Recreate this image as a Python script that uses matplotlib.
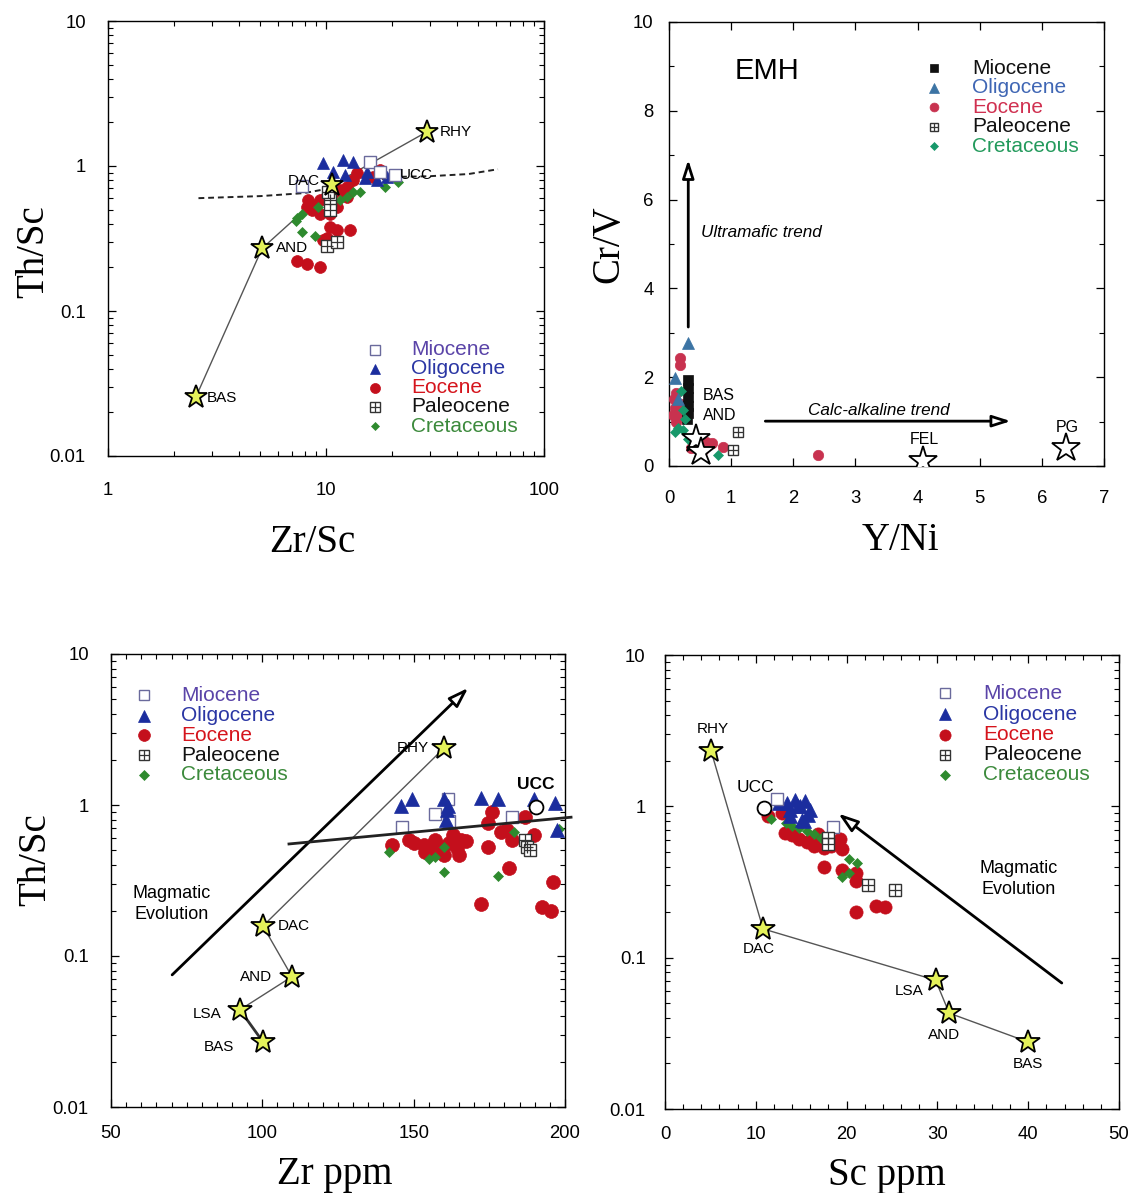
import matplotlib
matplotlib.use("Agg")
import matplotlib.pyplot as plt
from matplotlib.ticker import FuncFormatter, LogLocator, MultipleLocator, NullFormatter

plt.rcParams['font.family'] = ['Liberation Sans', 'DejaVu Sans']

# ---------------- Panel A: Th/Sc vs Zr/Sc ----------------
a_mio_x = [15.9, 17.7, 20.7, 7.8]
a_mio_y = [1.07, 0.91, 0.87, 0.73]
a_oli_x = [9.7, 10.8, 12.0, 13.3, 15.4, 17.1, 15.1, 19.0, 12.2]
a_oli_y = [1.05, 0.91, 1.10, 1.07, 0.91, 0.80, 0.83, 0.84, 0.87]
a_eoc_x = [8.3, 8.7, 9.4, 10.1, 10.8, 11.6, 12.5, 13.3, 13.9, 16.4, 17.7, 12.5, 11.2,
           10.4, 9.4, 8.6, 8.2, 10.4, 11.2, 12.9, 10.1, 9.7, 7.4, 8.2, 9.4]
a_eoc_y = [0.58, 0.52, 0.58, 0.61, 0.65, 0.68, 0.72, 0.80, 0.90, 0.84, 0.94, 0.61, 0.52,
           0.47, 0.47, 0.50, 0.52, 0.38, 0.36, 0.36, 0.32, 0.31, 0.22, 0.21, 0.20]
a_pal_x = [10.4, 10.4, 10.2, 10.1, 11.2]
a_pal_y = [0.58, 0.50, 0.66, 0.28, 0.30]
a_cre_x = [7.4, 7.8, 9.2, 7.8, 8.9, 11.6, 12.5, 13.3, 14.3, 18.6, 21.3, 7.3]
a_cre_y = [0.44, 0.47, 0.52, 0.35, 0.33, 0.58, 0.61, 0.66, 0.66, 0.72, 0.78, 0.42]
a_ref_names = ['BAS', 'AND', 'DAC', 'RHY']
a_ref_x = [2.53, 5.09, 10.7, 29.0]
a_ref_y = [0.0255, 0.27, 0.74, 1.72]
a_trend_x = [2.6, 5.0, 7.9, 20.3, 29.7, 45.0, 61.5]
a_trend_y = [0.60, 0.62, 0.65, 0.84, 0.85, 0.88, 0.95]
a_ucc_label = (21.9, 0.86)

# ---------------- Panel B: Cr/V vs Y/Ni ----------------
b_mio_x = [0.31, 0.31, 0.31, 0.31, 0.30, 0.29]
b_mio_y = [1.94, 1.75, 1.55, 1.35, 1.20, 1.05]
b_oli_x = [0.31, 0.10, 0.14]
b_oli_y = [2.77, 1.98, 1.50]
b_eoc_x = [0.18, 0.17, 0.12, 0.08, 0.10, 0.07, 0.15, 0.20, 0.12, 0.22, 0.69, 0.87, 0.55, 0.35, 2.40, 0.60]
b_eoc_y = [2.43, 2.27, 1.64, 1.50, 1.30, 1.15, 1.20, 1.40, 1.00, 1.10, 0.52, 0.43, 0.36, 0.40, 0.25, 0.55]
b_pal_x = [1.11, 1.03]
b_pal_y = [0.77, 0.36]
b_cre_x = [0.23, 0.10, 0.23, 0.39, 0.79, 0.20, 0.15, 0.25, 0.30]
b_cre_y = [1.26, 0.77, 0.81, 0.65, 0.25, 1.70, 0.85, 1.05, 0.60]
b_ref_names = ['BAS', 'AND', 'FEL', 'PG']
b_ref_x = [0.43, 0.52, 4.09, 6.39]
b_ref_y = [0.61, 0.32, 0.12, 0.40]

# ---------------- Panel C: Th/Sc vs Zr ppm ----------------
c_mio_x = [146.0, 157.0, 161.2, 161.8, 182.6]
c_mio_y = [0.72, 0.87, 1.09, 0.78, 0.83]
c_oli_x = [145.9, 149.6, 160.0, 161.2, 160.6, 172.2, 177.7, 189.9, 196.7, 197.3, 161.0]
c_oli_y = [0.98, 1.09, 1.09, 0.98, 0.80, 1.12, 1.09, 1.09, 1.03, 0.68, 0.92]
c_eoc_x = [142.9, 148.4, 150.2, 153.3, 153.9, 156.9, 159.4, 160.0, 161.8, 163.1, 164.3, 165.5,
           167.3, 164.9, 155.1, 157.6, 175.9, 174.7, 178.9, 180.8, 182.6, 186.9, 189.9, 174.7,
           181.4, 172.2, 196.0, 192.4, 195.4]
c_eoc_y = [0.545, 0.59, 0.56, 0.545, 0.49, 0.59, 0.53, 0.47, 0.56, 0.63, 0.52, 0.59,
           0.58, 0.47, 0.53, 0.49, 0.90, 0.76, 0.66, 0.68, 0.59, 0.83, 0.63, 0.53,
           0.38, 0.22, 0.31, 0.21, 0.20]
c_pal_x = [186.8, 187.5, 188.3]
c_pal_y = [0.59, 0.53, 0.50]
c_cre_x = [141.7, 155.1, 157.0, 160.0, 160.0, 177.7, 183.2, 197.9]
c_cre_y = [0.49, 0.44, 0.45, 0.53, 0.36, 0.34, 0.66, 0.69]
c_ref_names = ['BAS', 'LSA', 'AND', 'DAC', 'RHY']
c_ref_x = [100.2, 92.6, 109.8, 100.2, 160.0]
c_ref_y = [0.027, 0.044, 0.073, 0.158, 2.38]
c_ucc = (190.4, 0.97)
c_fit_x = [108.8, 202.0]
c_fit_y = [0.552, 0.83]
c_arrow = [(70.2, 0.075), (168.0, 5.96)]

# ---------------- Panel D: Th/Sc vs Sc ppm ----------------
d_mio_x = [12.3, 18.5]
d_mio_y = [1.12, 0.73]
d_oli_x = [12.5, 13.4, 13.8, 14.3, 14.9, 15.4, 16.0, 15.1, 13.8, 14.6, 15.8, 15.3]
d_oli_y = [1.06, 1.05, 0.86, 1.10, 1.00, 1.08, 0.95, 0.81, 0.95, 1.00, 0.87, 0.80]
d_eoc_x = [11.3, 12.9, 14.0, 14.8, 15.6, 16.4, 16.8, 17.5, 18.3, 19.3, 19.5, 17.5, 19.5,
           21.0, 21.0, 21.0, 23.2, 24.2, 13.25, 16.3]
d_eoc_y = [0.86, 0.90, 0.65, 0.61, 0.58, 0.55, 0.66, 0.53, 0.55, 0.61, 0.52, 0.40, 0.38,
           0.36, 0.32, 0.20, 0.22, 0.215, 0.67, 0.60]
d_pal_x = [17.9, 17.9, 22.4, 25.3]
d_pal_y = [0.62, 0.56, 0.30, 0.28]
d_cre_x = [11.7, 13.3, 14.0, 14.8, 15.6, 16.4, 17.2, 18.0, 20.3, 21.2, 19.5, 20.3]
d_cre_y = [0.83, 0.78, 0.74, 0.72, 0.69, 0.66, 0.62, 0.58, 0.45, 0.42, 0.34, 0.36]
d_ref_names = ['RHY', 'DAC', 'LSA', 'AND', 'BAS']
d_ref_x = [5.07, 10.8, 29.8, 31.3, 40.0]
d_ref_y = [2.33, 0.155, 0.071, 0.043, 0.0277]
d_ucc = (10.9, 0.97)
d_arrow = [(43.7, 0.068), (19.1, 0.895)]

ages = ['Miocene', 'Oligocene', 'Eocene', 'Paleocene', 'Cretaceous']

# marker styles for the common (A, C, D) symbol set
STYLE = {
    'Miocene':    dict(marker='s', mfc='white', mec='#6a6a9c', mew=1.0),
    'Oligocene':  dict(marker='^', mfc='#1b2d9e', mec='#1b2d9e', mew=0.5),
    'Eocene':     dict(marker='o', mfc='#c40f1c', mec='#c40f1c', mew=0.5),
    'Paleocene':  dict(marker='s', mfc='white', mec='#333333', mew=1.0),
    'Cretaceous': dict(marker='D', mfc='#2e8a2e', mec='#2e8a2e', mew=0.5),
}
TEXTCOL = {'Miocene': '#5a44a8', 'Oligocene': '#2a36a4', 'Eocene': '#d5141c',
           'Paleocene': '#111111', 'Cretaceous': '#3c8a3c'}

# symbol set for the Cr/V panel
STYLE_B = {
    'Miocene':    dict(marker='s', mfc='#111111', mec='#111111', mew=0.5),
    'Oligocene':  dict(marker='^', mfc='#3c74a4', mec='#3c74a4', mew=0.5),
    'Eocene':     dict(marker='o', mfc='#c8324f', mec='#c8324f', mew=0.5),
    'Paleocene':  dict(marker='s', mfc='white', mec='#333333', mew=1.0),
    'Cretaceous': dict(marker='D', mfc='#17986a', mec='#17986a', mew=0.5),
}
TEXTCOL_B = {'Miocene': '#111111', 'Oligocene': '#3f66b4', 'Eocene': '#d03050',
             'Paleocene': '#111111', 'Cretaceous': '#239a5c'}


def plot_series(ax, x, y, age, sizes, styles, **kw):
    st = styles[age]
    ms = sizes[age]
    ax.plot(x, y, ls='none', ms=ms, **st, **kw)
    if age == 'Paleocene':
        ax.plot(x, y, ls='none', marker='+', ms=ms, mec=st['mec'], mew=0.9, **kw)


def draw_key(ax, xm, xt, ys, sizes, styles, textcol, fs):
    for age, yy in zip(ages, ys):
        st = styles[age]
        ms = sizes[age] * 0.85
        ax.plot([xm], [yy], ls='none', ms=ms, transform=ax.transAxes, clip_on=False, **st)
        if age == 'Paleocene':
            ax.plot([xm], [yy], ls='none', marker='+', ms=ms, mec=st['mec'], mew=0.9,
                    transform=ax.transAxes, clip_on=False)
        ax.text(xt, yy, age, transform=ax.transAxes, color=textcol[age], fontsize=fs,
                va='center', ha='left')


def log_fmt(v, pos):
    return f'{v:g}'


def style_axes(ax, xpad, ypad):
    ax.tick_params(which='both', direction='in', top=True, right=True, labelsize=13.3)
    ax.tick_params(which='major', length=6, width=0.9)
    ax.tick_params(which='minor', length=3.5, width=0.8)
    ax.tick_params(axis='x', which='both', pad=xpad)
    ax.tick_params(axis='y', which='both', pad=ypad)
    for s in ax.spines.values():
        s.set_linewidth(1.0)


def setup_logy(ax):
    ax.set_yscale('log')
    ax.set_ylim(0.01, 10)
    ax.yaxis.set_major_locator(LogLocator(base=10, numticks=10))
    ax.yaxis.set_minor_locator(LogLocator(base=10, subs=range(2, 10), numticks=20))
    ax.yaxis.set_major_formatter(FuncFormatter(log_fmt))
    ax.yaxis.set_minor_formatter(NullFormatter())


STAR = dict(marker='*', mfc='#e4f25a', mec='black', mew=1.3, ls='none', zorder=6)
SERIF = dict(family=['Liberation Serif', 'DejaVu Serif'], fontsize=28)
LBL = dict(fontsize=11)

fig = plt.figure(figsize=(11.35, 11.93), dpi=100)
W, H = 1135.0, 1193.0


def add_axes_px(l, t, r, b):
    return fig.add_axes([l / W, 1 - b / H, (r - l) / W, (b - t) / H])


axA = add_axes_px(108, 21, 544, 456)
axB = add_axes_px(669, 22, 1104, 466)
axC = add_axes_px(111, 654, 565, 1107)
axD = add_axes_px(665, 655, 1119, 1109)

# ---------- A ----------
sizesA = {'Miocene': 8, 'Oligocene': 9, 'Eocene': 8.5, 'Paleocene': 8, 'Cretaceous': 5}
axA.set_xscale('log')
axA.set_xlim(1, 100)
axA.xaxis.set_major_locator(LogLocator(base=10, numticks=10))
axA.xaxis.set_minor_locator(LogLocator(base=10, subs=range(2, 10), numticks=20))
axA.xaxis.set_major_formatter(FuncFormatter(log_fmt))
axA.xaxis.set_minor_formatter(NullFormatter())
setup_logy(axA)
axA.plot(a_trend_x, a_trend_y, ls=(0, (3, 2)), color='#222222', lw=1.4, zorder=2)
axA.plot(a_ref_x, a_ref_y, color='#555555', lw=1.0, zorder=2)
for x, y, age in [(a_eoc_x, a_eoc_y, 'Eocene'), (a_cre_x, a_cre_y, 'Cretaceous'),
                  (a_oli_x, a_oli_y, 'Oligocene'), (a_mio_x, a_mio_y, 'Miocene'),
                  (a_pal_x, a_pal_y, 'Paleocene')]:
    plot_series(axA, x, y, age, sizesA, STYLE, zorder=4)
axA.plot(a_ref_x, a_ref_y, ms=17, **STAR)
a_offsets = {'BAS': (8, -1, 'left'), 'AND': (10, 0, 'left'), 'DAC': (-9, 3, 'right'),
             'RHY': (9, 0, 'left')}
for n, x, y in zip(a_ref_names, a_ref_x, a_ref_y):
    dx, dy, ha = a_offsets[n]
    axA.annotate(n, (x, y), xytext=(dx, dy), textcoords='offset points', ha=ha, va='center',
                 zorder=7, **LBL)
axA.text(*a_ucc_label, 'UCC', ha='left', va='center', zorder=7, **LBL)
draw_key(axA, 0.612, 0.695, [0.244, 0.201, 0.157, 0.113, 0.068], sizesA, STYLE, TEXTCOL, 15)
style_axes(axA, 19, 16)
axA.set_xlabel('Zr/Sc', **SERIF)
axA.set_ylabel('Th/Sc', **SERIF)
axA.xaxis.set_label_coords(0.468, -0.157)
axA.yaxis.set_label_coords(-0.127, 0.47)

# ---------- B ----------
sizesB = {'Miocene': 7, 'Oligocene': 8, 'Eocene': 7.5, 'Paleocene': 7.5, 'Cretaceous': 5}
axB.set_xlim(0, 7)
axB.set_ylim(0, 10)
axB.xaxis.set_major_locator(MultipleLocator(1))
axB.yaxis.set_major_locator(MultipleLocator(2))
axB.yaxis.set_minor_locator(MultipleLocator(1))
axB.annotate('', xy=(0.31, 6.9), xytext=(0.31, 3.13),
             arrowprops=dict(arrowstyle='-|>,head_length=1.1,head_width=0.35', lw=2,
                             fc='white', ec='black', shrinkA=0, shrinkB=0))
axB.annotate('', xy=(5.5, 1.01), xytext=(1.55, 1.01),
             arrowprops=dict(arrowstyle='-|>,head_length=1.1,head_width=0.35', lw=2,
                             fc='white', ec='black', shrinkA=0, shrinkB=0))
for x, y, age in [(b_eoc_x, b_eoc_y, 'Eocene'), (b_mio_x, b_mio_y, 'Miocene'),
                  (b_cre_x, b_cre_y, 'Cretaceous'), (b_oli_x, b_oli_y, 'Oligocene'),
                  (b_pal_x, b_pal_y, 'Paleocene')]:
    plot_series(axB, x, y, age, sizesB, STYLE_B, zorder=4)
axB.plot(b_ref_x, b_ref_y, marker='*', mfc='white', mec='black', mew=1.3, ls='none',
         ms=21, zorder=6)
axB.text(0.55, 1.58, 'BAS', ha='left', va='center', fontsize=11.5)
axB.text(0.55, 1.13, 'AND', ha='left', va='center', fontsize=11.5)
for n, x, y in zip(b_ref_names[2:], b_ref_x[2:], b_ref_y[2:]):
    axB.annotate(n, (x, y), xytext=(1, 15), textcoords='offset points', ha='center',
                 va='center', fontsize=11.5)
axB.text(1.05, 8.9, 'EMH', fontsize=21, ha='left', va='center')
axB.text(0.52, 5.27, 'Ultramafic trend', fontsize=12.3, style='italic', ha='left', va='center')
axB.text(3.38, 1.24, 'Calc-alkaline trend', fontsize=12.3, style='italic', ha='center',
         va='center')
draw_key(axB, 0.609, 0.697, [0.896, 0.852, 0.808, 0.764, 0.720], sizesB, STYLE_B,
         TEXTCOL_B, 15)
style_axes(axB, 17, 11)
axB.set_xlabel('Y/Ni', **SERIF)
axB.set_ylabel('Cr/V', **SERIF)
axB.xaxis.set_label_coords(0.531, -0.125)
axB.yaxis.set_label_coords(-0.096, 0.5)

# ---------- C ----------
sizesC = {'Miocene': 9, 'Oligocene': 10, 'Eocene': 10, 'Paleocene': 8.5, 'Cretaceous': 5.5}
axC.set_xlim(50, 200)
axC.xaxis.set_major_locator(MultipleLocator(50))
axC.xaxis.set_minor_locator(MultipleLocator(5))
setup_logy(axC)
axC.annotate('', xy=c_arrow[1], xytext=c_arrow[0],
             arrowprops=dict(arrowstyle='-|>,head_length=1.2,head_width=0.4', lw=2,
                             fc='white', ec='black', shrinkA=0, shrinkB=0))
axC.plot(c_fit_x, c_fit_y, color='#222222', lw=2, clip_on=False, zorder=5)
axC.plot(c_ref_x[1:], c_ref_y[1:], color='#555555', lw=1.0, zorder=3)
axC.plot(c_ref_x[:2], c_ref_y[:2], color='#333333', lw=2.0, zorder=3)
for x, y, age in [(c_eoc_x, c_eoc_y, 'Eocene'), (c_cre_x, c_cre_y, 'Cretaceous'),
                  (c_mio_x, c_mio_y, 'Miocene'), (c_oli_x, c_oli_y, 'Oligocene'),
                  (c_pal_x, c_pal_y, 'Paleocene')]:
    plot_series(axC, x, y, age, sizesC, STYLE, zorder=4)
axC.plot(c_ref_x, c_ref_y, ms=18, **STAR)
c_offsets = {'BAS': (-21, -4, 'right'), 'LSA': (-13, -3, 'right'), 'AND': (-14, 0, 'right'),
             'DAC': (11, 0, 'left'), 'RHY': (-11, 0, 'right')}
for n, x, y in zip(c_ref_names, c_ref_x, c_ref_y):
    dx, dy, ha = c_offsets[n]
    axC.annotate(n, (x, y), xytext=(dx, dy), textcoords='offset points', ha=ha, va='center',
                 zorder=7, **LBL)
axC.plot(*c_ucc, marker='o', ms=10, mfc='white', mec='black', mew=1.3, ls='none', zorder=6)
axC.annotate('UCC', c_ucc, xytext=(0, 16.5), textcoords='offset points', ha='center',
             va='center', fontsize=12.5, fontweight='bold')
axC.text(70, 0.22, 'Magmatic\nEvolution', fontsize=13, ha='center', va='center',
         linespacing=1.3)
draw_key(axC, 0.073, 0.154, [0.909, 0.864, 0.821, 0.777, 0.733], sizesC, STYLE, TEXTCOL, 15)
style_axes(axC, 13, 16)
axC.set_xlabel('Zr ppm', **SERIF)
axC.set_ylabel('Th/Sc', **SERIF)
axC.xaxis.set_label_coords(0.493, -0.108)
axC.yaxis.set_label_coords(-0.124, 0.545)

# ---------- D ----------
sizesD = {'Miocene': 9, 'Oligocene': 9.5, 'Eocene': 9.5, 'Paleocene': 8.5, 'Cretaceous': 5.5}
axD.set_xlim(0, 50)
axD.xaxis.set_major_locator(MultipleLocator(10))
axD.xaxis.set_minor_locator(MultipleLocator(2))
setup_logy(axD)
axD.annotate('', xy=d_arrow[1], xytext=d_arrow[0],
             arrowprops=dict(arrowstyle='-|>,head_length=1.2,head_width=0.4', lw=2,
                             fc='white', ec='black', shrinkA=0, shrinkB=0))
axD.plot(d_ref_x, d_ref_y, color='#555555', lw=1.0, zorder=3)
for x, y, age in [(d_eoc_x, d_eoc_y, 'Eocene'), (d_cre_x, d_cre_y, 'Cretaceous'),
                  (d_oli_x, d_oli_y, 'Oligocene'), (d_mio_x, d_mio_y, 'Miocene'),
                  (d_pal_x, d_pal_y, 'Paleocene')]:
    plot_series(axD, x, y, age, sizesD, STYLE, zorder=4)
axD.plot(d_ref_x, d_ref_y, ms=18, **STAR)
d_offsets = {'RHY': (1, 16, 'center'), 'DAC': (-3, -14.5, 'center'), 'LSA': (-19, -8, 'center'),
             'AND': (-4, -16, 'center'), 'BAS': (0, -16, 'center')}
for n, x, y in zip(d_ref_names, d_ref_x, d_ref_y):
    dx, dy, ha = d_offsets[n]
    axD.annotate(n, (x, y), xytext=(dx, dy), textcoords='offset points', ha=ha, va='center',
                 zorder=7, **LBL)
axD.plot(*d_ucc, marker='o', ms=10, mfc='white', mec='black', mew=1.3, ls='none', zorder=6)
axD.annotate('UCC', d_ucc, xytext=(-6, 15), textcoords='offset points', ha='center',
             va='center', fontsize=12.5)
axD.text(39.0, 0.33, 'Magmatic\nEvolution', fontsize=13, ha='center', va='center',
         linespacing=1.3)
draw_key(axD, 0.617, 0.700, [0.916, 0.870, 0.824, 0.780, 0.736], sizesD, STYLE, TEXTCOL, 15)
style_axes(axD, 12, 14)
axD.set_xlabel('Sc ppm', **SERIF)
axD.xaxis.set_label_coords(0.489, -0.105)

fig.savefig('out.png', dpi=100)
